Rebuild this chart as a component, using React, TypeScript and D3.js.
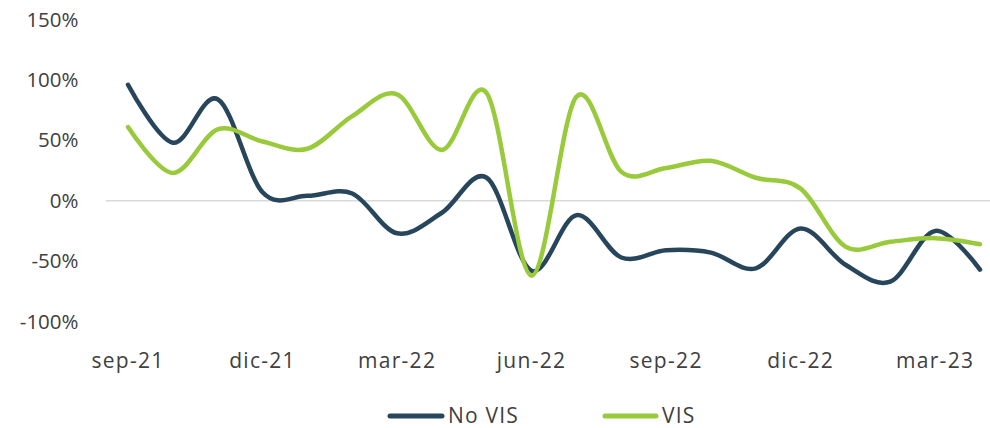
import { useEffect, useRef } from 'react';
import * as d3 from 'd3';

const months = [
  'sep-21', 'oct-21', 'nov-21', 'dic-21', 'ene-22', 'feb-22', 'mar-22', 'abr-22', 'may-22', 'jun-22',
  'jul-22', 'ago-22', 'sep-22', 'oct-22', 'nov-22', 'dic-22', 'ene-23', 'feb-23', 'mar-23', 'abr-23',
];
const noVis = [96, 48, 84, 7, 4, 6, -27, -10, 19, -58, -12, -47, -41, -43, -56, -23, -53, -67, -25, -57];
const vis = [61, 23, 59, 49, 43, 70, 88, 42, 89, -62, 86, 24, 27, 33, 19, 10, -38, -34, -31, -36];
const yTicks = [-100, -50, 0, 50, 100, 150];
const labelMonths = ['sep-21', 'dic-21', 'mar-22', 'jun-22', 'sep-22', 'dic-22', 'mar-23'];

const series = [
  { name: 'No VIS', values: noVis, color: '#28465b' },
  { name: 'VIS', values: vis, color: '#99ca3c' },
];

export default function App() {
  const ref = useRef<SVGSVGElement>(null);

  useEffect(() => {
    const width = 990;
    const height = 428;
    const font = "'Open Sans', sans-serif";
    const textColor = '#404040';

    const svg = d3.select(ref.current);
    svg.selectAll('*').remove();

    const x = d3.scaleBand().domain(months).range([105.6, 1002.4]);
    const cx = (m: string) => (x(m) ?? 0) + x.bandwidth() / 2;
    const y = d3.scaleLinear().domain([-100, 150]).range([321.5, 19.5]);

    // only the zero line is drawn
    svg
      .append('line')
      .attr('x1', x.range()[0])
      .attr('x2', width)
      .attr('y1', y(0))
      .attr('y2', y(0))
      .attr('stroke', '#d9d9d9')
      .attr('stroke-width', 1.5);

    // y labels
    svg
      .append('g')
      .selectAll('text')
      .data(yTicks)
      .join('text')
      .attr('x', 78.5)
      .attr('y', (d) => y(d))
      .attr('dy', '0.35em')
      .attr('text-anchor', 'end')
      .attr('font-family', font)
      .attr('font-size', 20.5)
      .attr('fill', textColor)
      .text((d) => `${d}%`);

    // x labels
    svg
      .append('g')
      .selectAll('text')
      .data(labelMonths)
      .join('text')
      .attr('x', (d) => cx(d))
      .attr('y', 361)
      .attr('dy', '0.35em')
      .attr('text-anchor', 'middle')
      .attr('font-family', font)
      .attr('font-size', 21)
      .attr('letter-spacing', 1.3)
      .attr('fill', textColor)
      .text((d) => d);

    const line = d3
      .line<number>()
      .x((_, i) => cx(months[i]))
      .y((d) => y(d))
      .curve(d3.curveCatmullRom.alpha(0));

    series.forEach((s) => {
      svg
        .append('path')
        .attr('d', line(s.values))
        .attr('fill', 'none')
        .attr('stroke', s.color)
        .attr('stroke-width', 4.5)
        .attr('stroke-linecap', 'round')
        .attr('stroke-linejoin', 'round');
    });

    // legend
    const legend = [
      { ...series[0], x1: 390, x2: 442, tx: 448 },
      { ...series[1], x1: 605, x2: 656, tx: 662 },
    ];
    legend.forEach((l) => {
      const g = svg.append('g');
      g.append('line')
        .attr('x1', l.x1)
        .attr('x2', l.x2)
        .attr('y1', 416)
        .attr('y2', 416)
        .attr('stroke', l.color)
        .attr('stroke-width', 5)
        .attr('stroke-linecap', 'round');
      g.append('text')
        .attr('x', l.tx)
        .attr('y', 416)
        .attr('dy', '0.35em')
        .attr('font-family', font)
        .attr('font-size', 21)
        .attr('letter-spacing', 1.2)
        .attr('fill', textColor)
        .text(l.name);
    });

    svg.attr('width', width).attr('height', height);
  }, []);

  return (
    <>
      <style>{'body{margin:0}'}</style>
      <svg ref={ref} style={{ display: 'block' }} />
    </>
  );
}
